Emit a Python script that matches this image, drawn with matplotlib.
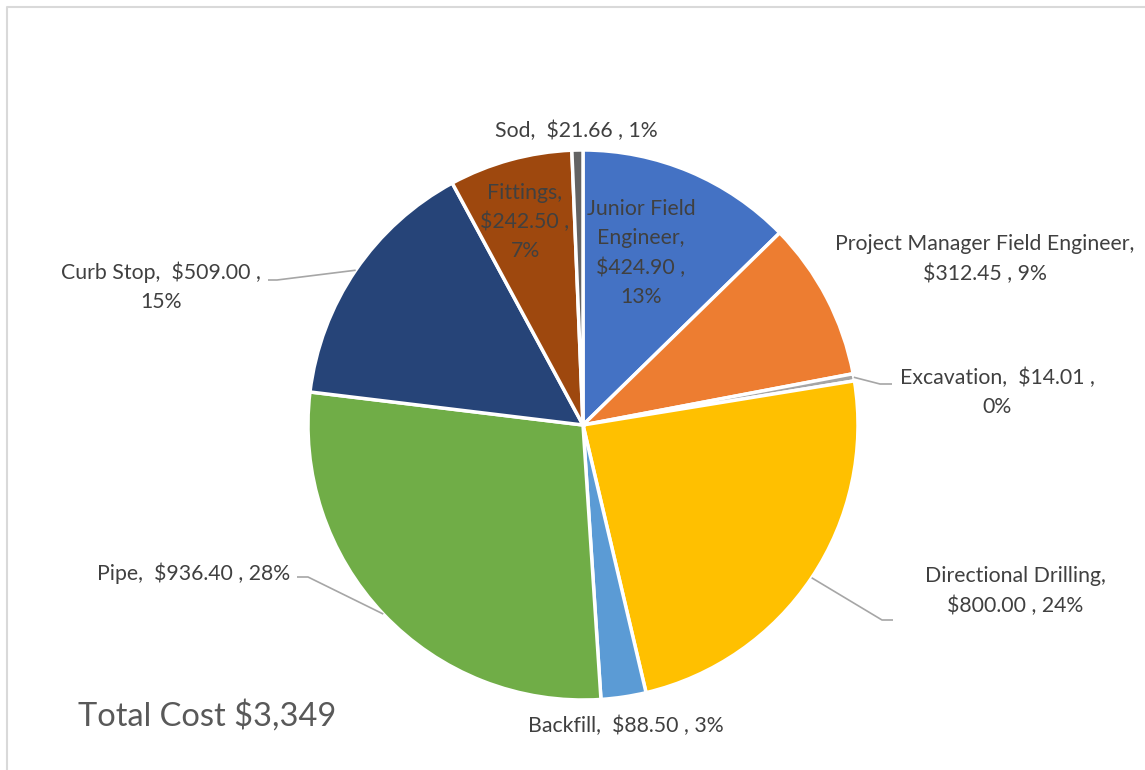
import numpy as np
import matplotlib
matplotlib.use('Agg')
import matplotlib.pyplot as plt

# Desglose de costos del proyecto
categorias = ['Junior Field\nEngineer', 'Project Manager Field Engineer', 'Excavation',
              'Directional Drilling', 'Backfill', 'Pipe', 'Curb Stop', 'Fittings', 'Sod']
costos = [424.90, 312.45, 14.01, 800.00, 88.50, 936.40, 509.00, 242.50, 21.66]
colores = ['#4472C4', '#ED7D31', '#A5A5A5', '#FFC000', '#5B9BD5',
           '#70AD47', '#264478', '#9E480E', '#636363']

W, H = 1145, 770
CX, CY, R = 583, H - 425, 275
TXT = '#404040'
FUENTE = 'Lato'

fig = plt.figure(figsize=(W / 100, H / 100), dpi=100)
ax = fig.add_axes([0, 0, 1, 1])

ax.pie(costos, colors=colores, startangle=90, counterclock=False,
       center=(CX, CY), radius=R,
       wedgeprops=dict(edgecolor='white', linewidth=2.5))

# el pie cambia los límites, se fijan después
ax.set_xlim(0, W)
ax.set_ylim(0, H)
ax.set_aspect('equal')
ax.axis('off')

total = sum(costos)
pcts = [round(100 * c / total) for c in costos]


def etiqueta(i, sep1=',  ', sep2=' , '):
    nombre = categorias[i]
    return f'{nombre}{sep1}${costos[i]:,.2f}{sep2}{pcts[i]}%'


def ancla(i):
    # punto medio del arco de cada porción
    acum = sum(costos[:i]) + costos[i] / 2
    ang = np.deg2rad(90 - 360 * acum / total)
    return CX + R * np.cos(ang), CY + R * np.sin(ang)


def texto(x, y, s, ha='center', size=15.3, ls=1.55):
    ax.text(x, H - y, s, ha=ha, va='center', color=TXT, fontsize=size,
            family=FUENTE, linespacing=ls)


def guia(i, codo, fin):
    x0, y0 = ancla(i)
    ax.plot([x0, codo[0], fin[0]], [y0, H - codo[1], H - fin[1]],
            color='#A6A6A6', lw=1.2, solid_capstyle='butt')


# etiquetas dentro de la torta
texto(641, 253, 'Junior Field\nEngineer,\n$424.90 ,\n13%')
texto(525, 222, 'Fittings,\n$242.50 ,\n7%')

# etiquetas exteriores
texto(576, 131, etiqueta(8))
texto(985, 259, 'Project Manager Field Engineer,\n$312.45 , 9%')
texto(997, 392, 'Excavation,  $14.01 ,\n0%')
guia(2, (880, 384), (892, 384))
texto(1015, 591, 'Directional Drilling,\n$800.00 , 24%')
guia(3, (882, 620), (893, 620))
texto(626, 726, etiqueta(4))
texto(194, 573, etiqueta(5))
guia(5, (308, 577), (297, 577))
texto(161, 287, 'Curb Stop,  $509.00 ,\n15%')
guia(6, (277, 280), (268, 280))

ax.text(78, H - 716, f'Total Cost ${total:,.0f}', ha='left', va='center',
        color='#595959', fontsize=23.5, family=FUENTE)

# borde del área del gráfico
ax.plot([7, 7, W], [0, H - 7, H - 7], color='#D9D9D9', lw=1.5)

fig.savefig('out.png', dpi=100)
